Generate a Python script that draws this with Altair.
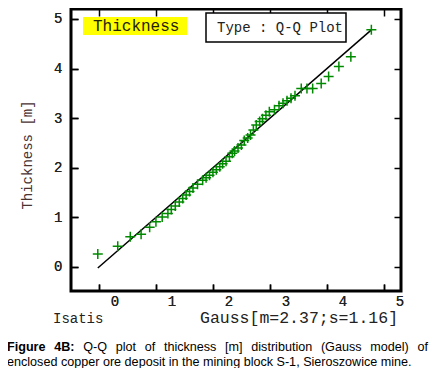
import altair as alt
import pandas as pd

# Gaussian quantiles (x) vs. sorted thickness values (y)
gauss_q = [-0.03, 0.32, 0.54, 0.73, 0.88, 0.99, 1.10, 1.20, 1.26, 1.33, 1.40, 1.46, 1.52,
           1.58, 1.64, 1.72, 1.81, 1.87, 1.93, 1.99, 2.05, 2.11, 2.16, 2.22, 2.28, 2.33,
           2.37, 2.43, 2.49, 2.54, 2.60, 2.65, 2.70, 2.75, 2.81, 2.86, 2.92, 2.98, 3.07,
           3.15, 3.22, 3.29, 3.36, 3.43, 3.54, 3.64, 3.74, 3.89, 4.02, 4.20, 4.41, 4.77]
thickness = [0.26, 0.42, 0.61, 0.66, 0.80, 0.91, 1.01, 1.08, 1.16, 1.23, 1.31, 1.38, 1.45,
             1.52, 1.59, 1.67, 1.75, 1.80, 1.85, 1.91, 1.96, 2.02, 2.08, 2.13, 2.22, 2.29,
             2.34, 2.40, 2.46, 2.55, 2.60, 2.66, 2.76, 2.86, 2.93, 2.99, 3.06, 3.13, 3.17,
             3.25, 3.30, 3.35, 3.40, 3.45, 3.60, 3.60, 3.60, 3.70, 3.84, 4.04, 4.24, 4.78]

# reference line (model) end points
line_x = [-0.03, 4.77]
line_y = [-0.02, 4.78]

x_ticks = [0, 1, 2, 3, 4, 5]
y_ticks = [0, 1, 2, 3, 4, 5]

x_title = "Gauss[m=2.37;s=1.16]"
y_title = "Thickness [m]"
corner_label = "Isatis"
box_label = "Thickness"
type_label = "Type : Q-Q Plot"

# justified first caption line, word by word
caption_bold_words = ["Figure", "4B:"]
caption_bold_x = [-64, -16.8]
caption_words = ["Q-Q", "plot", "of", "thickness", "[m]", "distribution",
                 "(Gauss", "model)", "of"]
caption_word_x = [12.2, 44.7, 73.7, 92.9, 154.1, 180.3, 249.9, 299.2, 346.4]
caption_line2 = "enclosed copper ore deposit in the mining block S-1, Sieroszowice mine."

pts = pd.DataFrame({"q": gauss_q, "t": thickness})
ln = pd.DataFrame({"q": line_x, "t": line_y})
one = pd.DataFrame({"a": [0]})
cap1 = pd.DataFrame({"w": caption_words, "xp": caption_word_x})
cap1b = pd.DataFrame({"w": caption_bold_words, "xp": caption_bold_x})

mono = "Liberation Mono"
xscale = alt.Scale(domain=[-0.5, 5.29], nice=False, zero=False)
yscale = alt.Scale(domain=[-0.484, 5.2], nice=False, zero=False)

common = dict(values=x_ticks, format="d", offset=-7, tickSize=7, tickWidth=1.5,
              tickColor="black", domain=False, grid=False, title=None, labelFlush=False,
              labelFont=mono, labelFontSize=14, labelColor="#222222")

x_bottom = alt.Axis(orient="bottom", labelOffset=15, labelPadding=3, **common)
y_left = alt.Axis(orient="left", labelPadding=9, **common)
x_top = alt.Axis(orient="top", labels=False, **common)
y_right = alt.Axis(orient="right", labels=False, **common)

line = alt.Chart(ln).mark_line(color="black", strokeWidth=1.5).encode(
    x=alt.X("q:Q", scale=xscale, axis=x_bottom),
    y=alt.Y("t:Q", scale=yscale, axis=y_left),
)

points = alt.Chart(pts).mark_point(
    shape="M-1,0L1,0M0,-1L0,1", size=100, filled=False, strokeWidth=1.5, color="#008a00", opacity=1
).encode(
    x=alt.X("q:Q", scale=xscale, axis=x_bottom),
    y=alt.Y("t:Q", scale=yscale, axis=y_left),
)

frame_axes = alt.Chart(ln).mark_line(opacity=0).encode(
    x=alt.X("q:Q", scale=xscale, axis=x_top),
    y=alt.Y("t:Q", scale=yscale, axis=y_right),
)

yellow = alt.Chart(one).mark_rect(color="#ffff00").encode(
    x=alt.value(12), x2=alt.value(116), y=alt.value(8), y2=alt.value(26))
yellow_txt = alt.Chart(one).mark_text(
    text=box_label, font=mono, fontSize=16, align="left", baseline="alphabetic", color="#222200"
).encode(x=alt.value(22), y=alt.value(21.5))

type_box = alt.Chart(one).mark_rect(fill="white", stroke="black", strokeWidth=1.5).encode(
    x=alt.value(135), x2=alt.value(275), y=alt.value(4), y2=alt.value(33))
type_txt = alt.Chart(one).mark_text(
    text=type_label, font=mono, fontSize=14, align="left", baseline="alphabetic", color="#222222"
).encode(x=alt.value(146), y=alt.value(23))

ytitle = alt.Chart(one).mark_text(
    text=y_title, font=mono, fontSize=14, angle=270, align="center", baseline="middle",
    color="#4a3232"
).encode(x=alt.value(-43), y=alt.value(146))

isatis = alt.Chart(one).mark_text(
    text=corner_label, font=mono, fontSize=14, align="left", baseline="alphabetic", color="#222222"
).encode(x=alt.value(-18), y=alt.value(314))

xtitle = alt.Chart(one).mark_text(
    text=x_title, font=mono, fontSize=16.5, align="left", baseline="alphabetic", color="#222222"
).encode(x=alt.value(129), y=alt.value(314))

cap_bold = alt.Chart(cap1b).mark_text(
    font="Liberation Sans", fontSize=12.6, fontWeight="bold",
    align="left", baseline="alphabetic", color="black"
).encode(x=alt.X("xp:Q", scale=None), y=alt.value(342), text="w:N")

cap_words = alt.Chart(cap1).mark_text(
    font="Liberation Sans", fontSize=12.6, align="left", baseline="alphabetic", color="black"
).encode(x=alt.X("xp:Q", scale=None), y=alt.value(342), text="w:N")

cap2 = alt.Chart(one).mark_text(
    text=caption_line2, font="Liberation Sans", fontSize=12.6, align="left",
    baseline="alphabetic", color="black"
).encode(x=alt.value(-64), y=alt.value(357))

chart = alt.layer(
    line, points, frame_axes, yellow, yellow_txt, type_box, type_txt,
    ytitle, isatis, xtitle, cap_bold, cap_words, cap2
).properties(
    width=330, height=282,
    autosize=alt.AutoSizeParams(type="none"),
    padding={"left": 63, "top": 1, "right": 28, "bottom": 77},
).configure_view(stroke="black", strokeWidth=3)

chart.save("out.html", embed_options={"renderer": "svg", "actions": False})
